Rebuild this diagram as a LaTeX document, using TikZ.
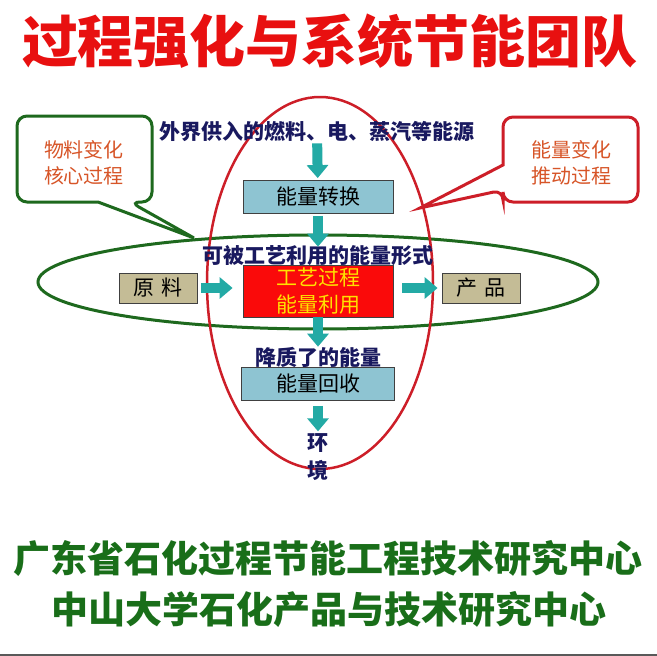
\documentclass[tikz,border=0pt]{standalone}
\usepackage{xcolor}
\usepackage{fontspec}
\newfontfamily\cjk{Noto Sans CJK SC}
\usepackage{tikz}
\usetikzlibrary{arrows.meta}
\usetikzlibrary{shapes}
\usetikzlibrary{shapes.geometric}
\usetikzlibrary{positioning}
\definecolor{titlered}{RGB}{232,16,16}
\definecolor{ovalred}{RGB}{205,30,40}
\definecolor{ovalgreen}{RGB}{30,105,30}
\definecolor{navy}{RGB}{25,25,95}
\definecolor{noteorange}{RGB}{215,85,40}
\definecolor{flowteal}{RGB}{35,170,165}
\definecolor{boxblue}{RGB}{142,196,210}
\definecolor{boxtan}{RGB}{196,188,150}
\definecolor{boxred}{RGB}{250,10,10}
\definecolor{textyellow}{RGB}{255,225,0}
\definecolor{footgreen}{RGB}{25,110,25}
\tikzset{>=latex}
\tikzstyle{flow} = [-{Triangle[width=21pt,length=13pt]}, line width=10pt, draw=flowteal]
\tikzstyle{box} = [rectangle, draw=black!75, thick, inner sep=0pt, font=\cjk\fontsize{21pt}{27pt}\selectfont]
\tikzstyle{label} = [draw=none, inner sep=0pt, text=navy, font=\cjk\bfseries\fontsize{21pt}{24pt}\selectfont]
\tikzstyle{note} = [draw=none, inner sep=0pt, text=noteorange, align=center, font=\cjk\fontsize{20pt}{26pt}\selectfont]

\begin{document}
\begin{tikzpicture}[x=1pt, y=-1pt]
\useasboundingbox [fill=white] (0, 0) rectangle (657, 656);
\node [draw=none, text=titlered, font=\cjk\bfseries\fontsize{56pt}{60pt}\selectfont] (title) at (330, 41) {过程强化与系统节能团队};
% the two loops
\node [ellipse, draw=ovalgreen, line width=3pt, minimum width=560pt, minimum height=94pt] (matloop) at (318, 282) {};
\node [ellipse, draw=ovalred, line width=2.5pt, minimum width=226pt, minimum height=372pt] (enloop) at (320, 283) {};
% callouts
\draw [draw=ovalgreen, line width=3pt, rounded corners=10pt] (17, 116) -- (152, 116) -- (152, 202) -- (130, 202) [sharp corners] -- (194, 238) -- (98, 202) [rounded corners=10pt] -- (17, 202) -- cycle;
\draw [draw=ovalred, line width=3pt, rounded corners=10pt] (503, 117) -- (638, 117) -- (638, 202) -- (503, 202) -- (503, 190) [sharp corners] -- (420, 208) -- (503, 165) [rounded corners=10pt] -- cycle;
\node [note] (matnote) at (84, 163) {物料变化\\核心过程};
\node [note] (ennote) at (571, 163) {能量变化\\推动过程};
% energy column
\node [label] (source) at (317, 131) {外界供入的燃料、电、蒸汽等能源};
\node [box, fill=boxblue, minimum width=150pt, minimum height=33pt] (convert) at (318, 197) {能量转换};
\node [label] (usable) at (318, 256) {可被工艺利用的能量形式};
\node [box, fill=boxred, text=textyellow, align=center, minimum width=150pt, minimum height=52pt] (process) at (318, 291) {工艺过程\\能量利用};
\node [label] (degraded) at (318, 357) {降质了的能量};
\node [box, fill=boxblue, minimum width=153pt, minimum height=33pt] (recover) at (318, 384) {能量回收};
\node [label] (env1) at (318, 443) {环};
\node [label] (env2) at (318, 470) {境};
% material row
\node [box, fill=boxtan, minimum width=78pt, minimum height=30pt] (feed) at (158, 288) {原\,\,料};
\node [box, fill=boxtan, minimum width=78pt, minimum height=30pt] (product) at (481, 288) {产\,\,品};
\draw [flow, shorten <=2pt, shorten >=2pt] (source) -- (convert);
\draw [flow, shorten <=2pt, shorten >=-1pt] (convert) -- (usable);
\draw [flow, shorten <=4pt, shorten >=10pt] (feed) -- (feed -| process.west);
\draw [flow, shorten <=9pt, shorten >=4pt] (product -| process.east) -- (product);
\draw [flow, shorten <=0pt, shorten >=0pt] (process) -- (degraded);
\draw [flow, shorten <=5pt, shorten >=2pt] (recover) -- (env1);
% footer
\node [draw=none, text=footgreen, font=\cjk\bfseries\fontsize{37pt}{40pt}\selectfont] (lab1) at (328, 558) {广东省石化过程节能工程技术研究中心};
\node [draw=none, text=footgreen, font=\cjk\bfseries\fontsize{37pt}{40pt}\selectfont] (lab2) at (329, 609) {中山大学石化产品与技术研究中心};
\draw [draw=black!65, line width=2pt] (0, 655) -- (657, 655);
\end{tikzpicture}
\end{document}
